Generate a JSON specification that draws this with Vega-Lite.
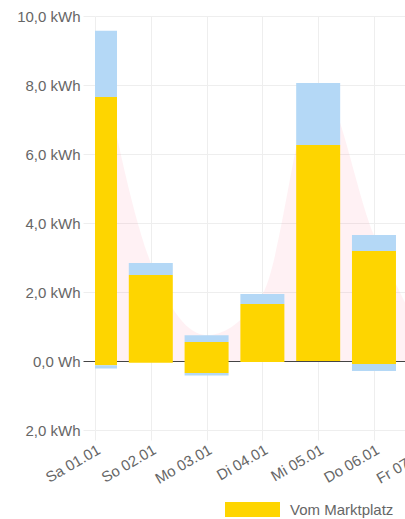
{
  "$schema": "https://vega.github.io/schema/vega-lite/v6.json",
  "width": 310,
  "height": 414,
  "autosize": {"type": "none"},
  "padding": {"left": 95, "top": 16, "right": 0, "bottom": 89},
  "background": "white",
  "config": {
    "font": "Liberation Sans",
    "view": {"stroke": null},
    "axis": {"labelFont": "Liberation Sans", "labelFontSize": 15, "labelColor": "#666666", "domain": false, "title": null},
    "legend": {"labelFont": "Liberation Sans"}
  },
  "datasets": {
    "bars": [
      {"day": 0, "series": "Vom Marktplatz", "layer": 1, "value": 7.65},
      {"day": 0, "series": "Eigenverbrauch", "layer": 2, "value": 1.92},
      {"day": 0, "series": "An Marktplatz", "layer": 1, "value": -0.12},
      {"day": 0, "series": "Einspeisung", "layer": 2, "value": -0.1},
      {"day": 1, "series": "Vom Marktplatz", "layer": 1, "value": 2.49},
      {"day": 1, "series": "Eigenverbrauch", "layer": 2, "value": 0.35},
      {"day": 1, "series": "An Marktplatz", "layer": 1, "value": -0.05},
      {"day": 2, "series": "Vom Marktplatz", "layer": 1, "value": 0.55},
      {"day": 2, "series": "Eigenverbrauch", "layer": 2, "value": 0.2},
      {"day": 2, "series": "An Marktplatz", "layer": 1, "value": -0.35},
      {"day": 2, "series": "Einspeisung", "layer": 2, "value": -0.07},
      {"day": 3, "series": "Vom Marktplatz", "layer": 1, "value": 1.65},
      {"day": 3, "series": "Eigenverbrauch", "layer": 2, "value": 0.29},
      {"day": 3, "series": "An Marktplatz", "layer": 1, "value": -0.03},
      {"day": 4, "series": "Vom Marktplatz", "layer": 1, "value": 6.26},
      {"day": 4, "series": "Eigenverbrauch", "layer": 2, "value": 1.8},
      {"day": 5, "series": "Vom Marktplatz", "layer": 1, "value": 3.19},
      {"day": 5, "series": "Eigenverbrauch", "layer": 2, "value": 0.46},
      {"day": 5, "series": "An Marktplatz", "layer": 1, "value": -0.09},
      {"day": 5, "series": "Einspeisung", "layer": 2, "value": -0.2}
    ],
    "totals": [
      {"day": 0, "total": 9.57},
      {"day": 1, "total": 2.84},
      {"day": 2, "total": 0.75},
      {"day": 3, "total": 1.94},
      {"day": 4, "total": 8.06},
      {"day": 5, "total": 3.65},
      {"day": 6, "total": 0.3}
    ],
    "extra": [
      {"day": 6, "label": "Fr 07.01"}
    ]
  },
  "layer": [
    {
      "data": {"name": "totals"},
      "mark": {"type": "area", "interpolate": "monotone", "color": "#ff6384", "opacity": 0.09, "clip": true},
      "encoding": {
        "x": {"field": "day", "type": "quantitative"},
        "y": {"field": "total", "type": "quantitative"}
      }
    },
    {
      "data": {"name": "bars"},
      "mark": {"type": "bar", "width": 44, "clip": true},
      "encoding": {
        "x": {
          "field": "day", "type": "quantitative",
          "scale": {"domain": [0, 5.556], "nice": false, "zero": false, "padding": 0},
          "axis": {
            "values": [0, 1, 2, 3, 4, 5],
            "labelExpr": "['Sa 01.01','So 02.01','Mo 03.01','Di 04.01','Mi 05.01','Do 06.01','Fr 07.01'][datum.value]",
            "labelAngle": -30, "labelAlign": "right", "labelBaseline": "top",
            "labelPadding": 2, "tickSize": 10, "tickColor": "#eeeeee",
            "grid": true, "gridColor": "#eeeeee", "labelFlush": false, "labelOverlap": false, "labelBound": false
          }
        },
        "y": {
          "field": "value", "type": "quantitative", "stack": "zero",
          "scale": {"domain": [-2, 10], "nice": false, "zero": false},
          "axis": {
            "values": [-2, 0, 2, 4, 6, 8, 10],
            "labelExpr": "datum.value == 0 ? '0,0 Wh' : replace(format(abs(datum.value), '.1f'), '.', ',') + ' kWh'",
            "labelPadding": 3, "tickSize": 12,
            "tickColor": {"condition": {"test": "datum.value === 0", "value": "#444444"}, "value": "#eeeeee"},
            "grid": true,
            "gridColor": {"condition": {"test": "datum.value === 0", "value": "#444444"}, "value": "#eeeeee"},
            "labelFlush": false
          }
        },
        "color": {
          "field": "series", "type": "nominal",
          "scale": {"domain": ["Vom Marktplatz", "Eigenverbrauch", "An Marktplatz", "Einspeisung"], "range": ["#fed500", "#b4d8f6", "#fed500", "#b4d8f6"]},
          "legend": {
            "values": ["Vom Marktplatz"], "title": null, "orient": "none", "legendX": 130, "legendY": 466,
            "symbolType": "M-1,-0.27H1V0.27H-1Z", "symbolSize": 3025, "symbolStrokeWidth": 0, "symbolOpacity": 1,
            "labelFontSize": 15, "labelColor": "#666666", "labelOffset": 10, "padding": 0
          }
        },
        "order": {"field": "layer", "type": "quantitative"}
      }
    },
    {
      "data": {"name": "extra"},
      "mark": {"type": "text", "angle": -30, "align": "right", "baseline": "top", "dx": -14, "dy": 10, "fontSize": 15, "color": "#666666", "clip": false},
      "encoding": {
        "x": {"field": "day", "type": "quantitative"},
        "y": {"datum": -2},
        "text": {"field": "label"}
      }
    }
  ]
}
